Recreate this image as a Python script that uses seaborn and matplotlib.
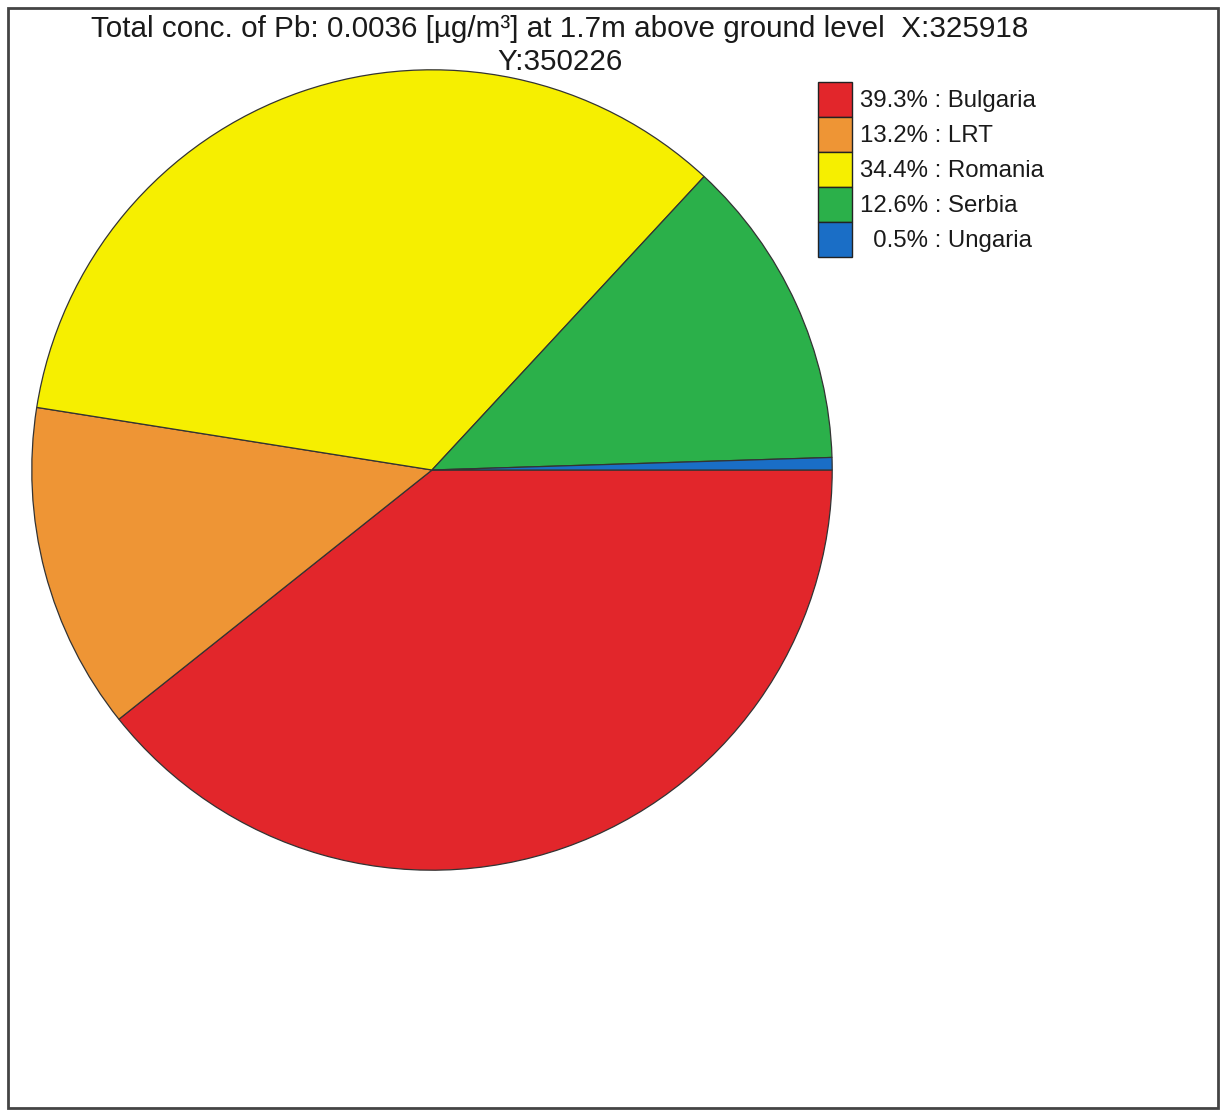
import matplotlib.pyplot as plt
import seaborn as sb
from matplotlib.patches import Patch, Rectangle

sources = ["Bulgaria", "LRT", "Romania", "Serbia", "Ungaria"]
shares = [39.3, 13.2, 34.4, 12.6, 0.5]
colours = ["#e2262b", "#ee9535", "#f6ef00", "#2bb04a", "#1a6ec6"]
title = "Total conc. of Pb: 0.0036 [µg/m³] at 1.7m above ground level  X:325918\nY:350226"

sb.set_theme(style="white")
plt.rcParams['font.family'] = ['Liberation Sans', 'DejaVu Sans']

W, H = 1222, 1113
fig = plt.figure(figsize=(W / 100, H / 100), dpi=100)

# pie placed in pixel terms: centre (432, 470), radius 401
cx, cy, r = 432, 470, 401
ax = fig.add_axes([(cx - r) / W, (H - cy - r) / H, 2 * r / W, 2 * r / H])
wedges, _ = ax.pie(shares, colors=colours, startangle=0, counterclock=False,
                   radius=1, wedgeprops=dict(edgecolor="#333333", linewidth=0.9))
ax.set_xlim(-1.002, 1.002)
ax.set_ylim(-1.002, 1.002)
ax.set_aspect("equal")
ax.axis("off")

line1, line2 = title.split("\n")
fig.text(560 / W, 1 - 29 / H, line1, ha="center", va="center", fontsize=21.3, color="#1a1a1a")
fig.text(560 / W, 1 - 62 / H, line2, ha="center", va="center", fontsize=21.3, color="#1a1a1a")

handles = [Patch(facecolor=c, edgecolor="#222222", linewidth=1) for c in colours]
labels = [f"{v:4.1f}% : {s}" for v, s in zip(shares, sources)]
labels = [l if not l.startswith(" ") else "  " + l.strip() for l in labels]
fs = 17.3
row_pt = 35 * 0.72
fig.legend(handles, labels, loc="upper left", bbox_to_anchor=(818 / W, 1 - 82 / H),
           frameon=False, fontsize=fs, labelspacing=0, borderpad=0, borderaxespad=0,
           handlelength=34 * 0.72 / fs, handleheight=(row_pt / fs - 0.245) / 0.65,
           handletextpad=8 * 0.72 / fs, labelcolor="#1a1a1a")

fig.patches.append(Rectangle((8 / W, 5 / H), 1210 / W, 1100 / H, transform=fig.transFigure,
                             fill=False, edgecolor="#444444", linewidth=2))

plt.savefig("out.png", dpi=100)
